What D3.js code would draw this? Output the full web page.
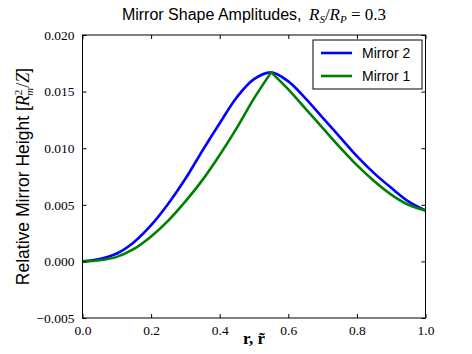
<!DOCTYPE html>
<html>
<head>
<meta charset="utf-8">
<script src="https://cdn.jsdelivr.net/npm/d3@7"></script>
<style>
  body { margin: 0; background: #fff; }
  svg { display: block; }
</style>
</head>
<body>
<script>
// data
let rValues = [0.00, 0.05, 0.10, 0.15, 0.20, 0.25, 0.30, 0.35, 0.40, 0.45, 0.50, 0.55, 0.60, 0.65, 0.70, 0.75, 0.80, 0.85, 0.90, 0.95, 1.00];
let mirror2 = [0.0000, 0.0002, 0.0007, 0.0017, 0.0032, 0.0051, 0.0073, 0.0098, 0.0122, 0.0145, 0.0161, 0.0167, 0.0159, 0.0144, 0.0127, 0.0110, 0.0093, 0.0078, 0.0065, 0.0053, 0.0045];
let mirror1 = [0.0000, 0.0001, 0.0004, 0.0011, 0.0022, 0.0036, 0.0053, 0.0072, 0.0094, 0.0118, 0.0144, 0.0167, 0.0152, 0.0135, 0.0118, 0.0101, 0.0085, 0.0071, 0.0059, 0.0050, 0.0045];
let seriesNames = ["Mirror 2", "Mirror 1"];
let seriesColors = ["#0000ff", "#008000"];
let xTicks = [0.0, 0.2, 0.4, 0.6, 0.8, 1.0];
let yTicks = [-0.005, 0.000, 0.005, 0.010, 0.015, 0.020];

const W = 472, H = 354;
const pLeft = 82.5, pRight = 425.5, pTop = 35, pBottom = 318;

var svg = d3.select("body").append("svg")
    .attr("width", W)
    .attr("height", H);

var x = d3.scaleLinear().domain([0, 1]).range([pLeft, pRight]);
var y = d3.scaleLinear().domain([-0.005, 0.020]).range([pBottom, pTop]);

var series = [mirror2, mirror1];
// mirror 1 has a sharp tip at the peak, so draw it as two smooth pieces
var splitAtPeak = [false, true];

var line = d3.line()
    .x(function(d){ return x(d[0]) })
    .y(function(d){ return y(d[1]) })
    .curve(d3.curveCatmullRom.alpha(0.5));

svg.append("clipPath").attr("id", "clip")
    .append("rect")
    .attr("x", pLeft).attr("y", pTop)
    .attr("width", pRight - pLeft).attr("height", pBottom - pTop);

series.forEach(function(s, i){
    var pts = rValues.map(function(r, j){ return [r, s[j]] });
    var pieces = [pts];
    if(splitAtPeak[i]){
        var k = d3.maxIndex(s);
        pieces = [pts.slice(0, k + 1), pts.slice(k)];
    }
    pieces.forEach(function(p){
        svg.append("path")
            .datum(p)
            .attr("clip-path", "url(#clip)")
            .attr("fill", "none")
            .attr("stroke", seriesColors[i])
            .attr("stroke-width", 2.6)
            .attr("stroke-linejoin", "round")
            .attr("stroke-linecap", "round")
            .attr("d", line);
    });
});

// axes, ticks pointing inwards on all four sides
var fmtY = function(d){ return d3.format(".3f")(d).replace("-", "\u2212") };

svg.append("g")
    .attr("transform", "translate(0," + pBottom + ")")
    .call(d3.axisBottom(x).tickValues(xTicks).tickSizeInner(-4).tickSizeOuter(0).tickPadding(7).tickFormat(d3.format(".1f")));
svg.append("g")
    .attr("transform", "translate(0," + pTop + ")")
    .call(d3.axisTop(x).tickValues(xTicks).tickSizeInner(-4).tickSizeOuter(0).tickFormat(""));
svg.append("g")
    .attr("transform", "translate(" + pLeft + ",0)")
    .call(d3.axisLeft(y).tickValues(yTicks).tickSizeInner(-4).tickSizeOuter(0).tickPadding(8).tickFormat(fmtY));
svg.append("g")
    .attr("transform", "translate(" + pRight + ",0)")
    .call(d3.axisRight(y).tickValues(yTicks).tickSizeInner(-4).tickSizeOuter(0).tickFormat(""));

svg.selectAll(".domain").remove();
svg.selectAll(".tick line").attr("stroke", "#000").attr("stroke-width", 1);
svg.selectAll(".tick text")
    .attr("font-family", "'Liberation Serif', 'DejaVu Serif', serif")
    .attr("font-size", 13.5)
    .attr("fill", "#000");

svg.append("rect")
    .attr("x", pLeft).attr("y", pTop)
    .attr("width", pRight - pLeft).attr("height", pBottom - pTop)
    .attr("fill", "none")
    .attr("stroke", "#000")
    .attr("stroke-width", 1);

var serif = "'Liberation Serif', 'DejaVu Serif', serif";

// title
var title = svg.append("text")
    .attr("x", (pLeft + pRight) / 2)
    .attr("y", 20)
    .attr("text-anchor", "middle")
    .attr("font-family", "'Liberation Sans', Arial, sans-serif")
    .attr("font-size", 16);
title.append("tspan").text("Mirror Shape Amplitudes, ");
title.append("tspan").attr("font-family", serif).attr("font-style", "italic").attr("font-size", 17).attr("dx", 3).text("R");
title.append("tspan").attr("font-family", serif).attr("font-style", "italic").attr("font-size", 11).attr("dy", 3).text("S");
title.append("tspan").attr("font-family", serif).attr("font-size", 17).attr("dy", -3).text("/");
title.append("tspan").attr("font-family", serif).attr("font-style", "italic").attr("font-size", 17).text("R");
title.append("tspan").attr("font-family", serif).attr("font-style", "italic").attr("font-size", 11).attr("dy", 3).text("P");
title.append("tspan").attr("font-family", serif).attr("font-size", 17).attr("dy", -3).text(" = 0.3");

// y label
var ylab = svg.append("text")
    .attr("transform", "translate(29," + ((pTop + pBottom) / 2) + ") rotate(-90)")
    .attr("text-anchor", "middle")
    .attr("font-family", "'Liberation Sans', Arial, sans-serif")
    .attr("font-size", 17.5);
ylab.append("tspan").text("Relative Mirror Height [");
ylab.append("tspan").attr("font-family", serif).attr("font-style", "italic").attr("font-size", 18).text("R");
ylab.append("tspan").attr("font-family", serif).attr("font-size", 11).attr("dy", -7).text("2");
ylab.append("tspan").attr("font-family", serif).attr("font-style", "italic").attr("font-size", 11).attr("dx", -6).attr("dy", 11).text("m");
ylab.append("tspan").attr("font-family", serif).attr("font-size", 18).attr("dy", -4).text("/");
ylab.append("tspan").attr("font-family", serif).attr("font-style", "italic").attr("font-size", 18).text("Z");
ylab.append("tspan").text("]");

// x label
svg.append("text")
    .attr("x", (pLeft + pRight) / 2)
    .attr("y", 344)
    .attr("text-anchor", "middle")
    .attr("font-family", serif)
    .attr("font-weight", "bold")
    .attr("font-size", 17)
    .text("r, r\u0303");

// legend
var lg = svg.append("g");
lg.append("rect")
    .attr("x", 313).attr("y", 40)
    .attr("width", 109).attr("height", 49)
    .attr("fill", "#fff")
    .attr("stroke", "#000")
    .attr("stroke-width", 1);
seriesNames.forEach(function(name, i){
    var yy = 53 + i * 23;
    lg.append("line")
        .attr("x1", 321).attr("x2", 352)
        .attr("y1", yy).attr("y2", yy)
        .attr("stroke", seriesColors[i])
        .attr("stroke-width", 2.6);
    lg.append("text")
        .attr("x", 362).attr("y", yy + 5)
        .attr("font-family", "'Liberation Sans', Arial, sans-serif")
        .attr("font-size", 14)
        .text(name);
});
</script>
</body>
</html>
